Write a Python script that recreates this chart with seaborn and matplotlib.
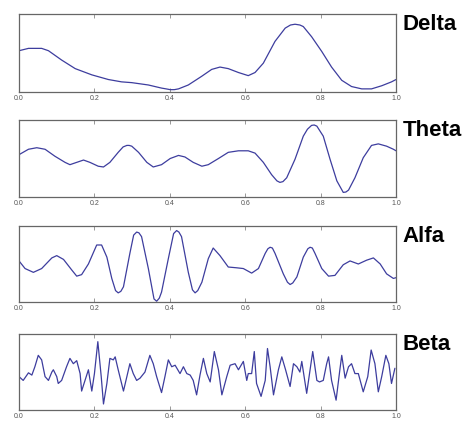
import matplotlib
matplotlib.use('Agg')
import matplotlib.pyplot as plt
import seaborn as sns

# values (time in s, amplitude in % of panel height)

delta_t = [0.000, 0.025, 0.060, 0.078, 0.113, 0.149, 0.193, 0.237, 0.272, 0.299,
           0.343, 0.378, 0.390, 0.401, 0.412, 0.423, 0.449, 0.484, 0.511, 0.533,
           0.555, 0.582, 0.608, 0.626, 0.648, 0.679, 0.706, 0.720, 0.732, 0.745,
           0.754, 0.776, 0.803, 0.829, 0.856, 0.882, 0.909, 0.935, 0.962, 0.988,
           1.000]
delta_v = [53, 56, 56, 53, 41, 30, 22, 16, 13, 12,
           9, 5, 4, 3, 3, 4, 9, 20, 29, 32,
           30, 25, 21, 25, 37, 65, 82, 86, 87, 86,
           84, 71, 52, 32, 15, 7, 4, 4, 8, 13,
           16]

theta_t = [0.000, 0.025, 0.047, 0.069, 0.095, 0.122, 0.135, 0.153, 0.171, 0.188,
           0.210, 0.224, 0.241, 0.263, 0.276, 0.286, 0.292, 0.299, 0.317, 0.339,
           0.356, 0.378, 0.401, 0.423, 0.440, 0.462, 0.485, 0.502, 0.529, 0.555,
           0.582, 0.608, 0.626, 0.648, 0.670, 0.684, 0.692, 0.700, 0.710, 0.732,
           0.754, 0.765, 0.776, 0.783, 0.790, 0.807, 0.825, 0.843, 0.860, 0.867,
           0.874, 0.891, 0.913, 0.935, 0.953, 0.975, 0.993, 1.000]
theta_v = [55, 62, 64, 62, 53, 45, 42, 45, 48, 45,
           40, 39, 45, 58, 65, 67, 67, 66, 58, 45,
           39, 42, 50, 54, 52, 45, 40, 42, 50, 58,
           60, 60, 57, 45, 29, 21, 19, 20, 25, 49,
           79, 88, 93, 93.5, 92, 79, 49, 21, 6, 6.5,
           9, 25, 51, 67, 69, 66, 62, 60]

alfa_t = [0.000, 0.016, 0.038, 0.060, 0.087, 0.100, 0.118, 0.140, 0.153, 0.166,
          0.184, 0.206, 0.219, 0.233, 0.246, 0.256, 0.263, 0.270, 0.277, 0.294,
          0.304, 0.312, 0.318, 0.325, 0.343, 0.358, 0.365, 0.372, 0.378, 0.396,
          0.410, 0.418, 0.424, 0.431, 0.449, 0.460, 0.467, 0.474, 0.485, 0.502,
          0.515, 0.533, 0.555, 0.577, 0.595, 0.617, 0.635, 0.653, 0.660, 0.666,
          0.672, 0.679, 0.701, 0.712, 0.719, 0.726, 0.737, 0.754, 0.766, 0.772,
          0.778, 0.785, 0.803, 0.821, 0.838, 0.860, 0.878, 0.900, 0.922, 0.940,
          0.958, 0.975, 0.993, 1.000]
alfa_v = [54, 44, 39, 44, 58, 61, 56, 42, 34, 36,
          50, 75, 75, 59, 31, 15, 12, 14, 20, 64,
          88, 92, 91, 86, 44, 4, 1, 5, 13, 57,
          90, 94, 92, 86, 39, 16, 12, 15, 26, 57,
          71, 61, 46, 45, 44, 38, 44, 64, 70, 72,
          71, 64, 37, 26, 23, 25, 33, 59, 70, 72,
          71, 64, 44, 34, 35, 49, 54, 50, 55, 58,
          50, 37, 31, 32]

beta_t = [0.000, 0.011, 0.025, 0.034, 0.042, 0.051, 0.060, 0.069, 0.078, 0.087,
          0.091, 0.100, 0.104, 0.113, 0.126, 0.135, 0.144, 0.153, 0.162, 0.166,
          0.175, 0.184, 0.193, 0.200, 0.209, 0.218, 0.224, 0.233, 0.241, 0.250,
          0.255, 0.263, 0.277, 0.286, 0.294, 0.303, 0.312, 0.321, 0.334, 0.347,
          0.356, 0.365, 0.378, 0.387, 0.396, 0.405, 0.414, 0.427, 0.436, 0.445,
          0.454, 0.462, 0.471, 0.480, 0.489, 0.498, 0.507, 0.518, 0.529, 0.538,
          0.551, 0.560, 0.573, 0.582, 0.595, 0.604, 0.608, 0.617, 0.624, 0.630,
          0.642, 0.653, 0.659, 0.666, 0.675, 0.688, 0.697, 0.707, 0.719, 0.728,
          0.737, 0.745, 0.750, 0.763, 0.772, 0.779, 0.790, 0.797, 0.807, 0.816,
          0.821, 0.829, 0.841, 0.851, 0.856, 0.865, 0.874, 0.882, 0.891, 0.900,
          0.913, 0.925, 0.934, 0.944, 0.953, 0.962, 0.973, 0.981, 0.988, 0.997]
beta_v = [44, 39, 49, 46, 57, 72, 66, 44, 39, 50,
          53, 44, 35, 39, 57, 68, 61, 65, 48, 25,
          39, 53, 25, 48, 90, 44, 8, 35, 68, 66,
          70, 53, 25, 44, 61, 48, 39, 42, 50, 72,
          61, 44, 23, 44, 66, 57, 59, 48, 57, 48,
          46, 39, 20, 46, 68, 48, 37, 77, 53, 20,
          44, 59, 61, 53, 64, 39, 48, 48, 77, 35,
          18, 39, 81, 57, 20, 53, 70, 53, 31, 61,
          57, 50, 64, 22, 53, 77, 39, 37, 39, 61,
          70, 39, 13, 53, 72, 42, 57, 61, 48, 48,
          24, 44, 79, 61, 24, 44, 72, 61, 35, 55]

bands = ['Delta', 'Theta', 'Alfa', 'Beta']
series = [(delta_t, delta_v), (theta_t, theta_v), (alfa_t, alfa_v), (beta_t, beta_v)]
tick_labels = ['0.0', '0.2', '0.4', '0.6', '0.8', '1.0']

sns.set_style('white')
plt.rcParams['font.family'] = ['Liberation Sans', 'DejaVu Sans']

fig = plt.figure(figsize=(4.76, 4.21), dpi=100)

# axes boxes (left, bottom, width, height) in figure fractions
boxes = [(0.040, 0.7815, 0.792, 0.185),
         (0.040, 0.532, 0.792, 0.183),
         (0.040, 0.2827, 0.792, 0.1805),
         (0.040, 0.026, 0.792, 0.1805)]

for name, (t, v), box in zip(bands, series, boxes):
    ax = fig.add_axes(box)
    sns.lineplot(x=t, y=v, ax=ax, estimator=None, sort=False,
                 color='#3d3d9e', linewidth=0.9,
                 solid_joinstyle='round', solid_capstyle='round')
    ax.set_xlim(0, 1)
    ax.set_ylim(0, 100)
    ax.set_yticks([])
    ax.set_xticks([0, 0.2, 0.4, 0.6, 0.8, 1.0])
    ax.set_xticklabels(tick_labels)
    ax.tick_params(axis='x', direction='in', top=True, bottom=True,
                   length=3, width=0.6, color='#888888',
                   labelsize=5, labelcolor='#555555', pad=2)
    for s in ax.spines.values():
        s.set_color('#666666')
        s.set_linewidth(0.9)
    ax.set_xlabel('')
    ax.set_ylabel('')
    ax.text(1.018, 1.0, name, transform=ax.transAxes, ha='left', va='top',
            fontsize=16, fontweight='bold', color='black')

fig.savefig('out.png', dpi=100)
